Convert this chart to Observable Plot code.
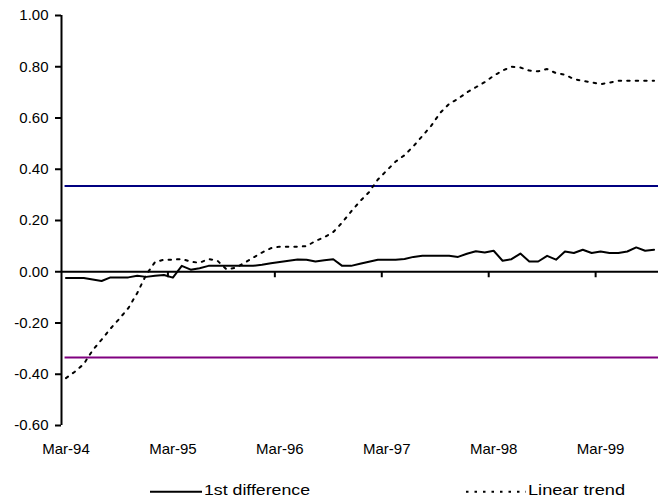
<!DOCTYPE html>
<html>
<head>
<meta charset="utf-8">
<script src="https://cdn.jsdelivr.net/npm/d3@7"></script>
<script src="https://cdn.jsdelivr.net/npm/@observablehq/plot@0.6"></script>
<style>
  html, body { margin: 0; padding: 0; background: #fff; }
  #chart { width: 658px; height: 502px; position: relative; font-family: "Liberation Sans", Arial, sans-serif; }
  #legend { display: block; }
</style>
</head>
<body>
<div id="chart"></div>
<script>
// Monthly observations, Mar-94 through Sep-99
const months = d3.utcMonth.range(new Date(Date.UTC(1994, 2, 1)), new Date(Date.UTC(1999, 9, 1)));

// Detrended series: first difference
const firstDifference = [
  -0.024, -0.024, -0.024, -0.030, -0.036, -0.022, -0.022, -0.022, -0.016, -0.020,
  -0.016, -0.013, -0.023, 0.023, 0.008, 0.014, 0.023, 0.023, 0.023, 0.023,
  0.023, 0.023, 0.027, 0.033, 0.038, 0.043, 0.048, 0.047, 0.040, 0.045,
  0.049, 0.023, 0.023, 0.031, 0.039, 0.047, 0.047, 0.047, 0.050, 0.058,
  0.062, 0.062, 0.062, 0.062, 0.058, 0.070, 0.080, 0.075, 0.082, 0.043,
  0.049, 0.071, 0.040, 0.040, 0.062, 0.047, 0.079, 0.073, 0.086, 0.073,
  0.079, 0.073, 0.073, 0.079, 0.095, 0.082, 0.086
];

// Detrended series: linear trend
const linearTrend = [
  -0.415, -0.390, -0.360, -0.306, -0.265, -0.222, -0.183, -0.142, -0.083, -0.012,
  0.038, 0.047, 0.047, 0.050, 0.039, 0.035, 0.050, 0.043, 0.010, 0.015,
  0.034, 0.055, 0.075, 0.092, 0.098, 0.098, 0.098, 0.100, 0.120, 0.135,
  0.155, 0.192, 0.235, 0.275, 0.310, 0.360, 0.395, 0.430, 0.455, 0.490,
  0.530, 0.570, 0.620, 0.655, 0.675, 0.700, 0.720, 0.740, 0.765, 0.785,
  0.800, 0.797, 0.785, 0.782, 0.791, 0.775, 0.769, 0.752, 0.745, 0.739,
  0.732, 0.738, 0.745, 0.745, 0.745, 0.745, 0.745
];

// Critical bounds
const upperBound = 0.335;
const lowerBound = -0.335;

// Y axis ticks
const yTicks = [-0.6, -0.4, -0.2, 0, 0.2, 0.4, 0.6, 0.8, 1.0];

const rows = months.map((m, i) => ({i, month: m, diff: firstDifference[i], trend: linearTrend[i]}));
const fmtMonth = d3.utcFormat("%b-%y");
const xDomain = [-0.5, months.length - 0.5];
// label every March; tick marks sit on category boundaries
const labelIdx = months.map((m, i) => i).filter(i => months[i].getUTCMonth() === 2);
const boundaryIdx = labelIdx.filter(i => i > 0).map(i => i - 0.5);

// short downward ticks hanging from the zero line
function zeroLineTicks(index, scales) {
  const g = d3.create("svg:g").attr("stroke", "black").attr("stroke-width", 2);
  const y0 = scales.y(0);
  for (const b of boundaryIdx) {
    const x = scales.x(b);
    g.append("line").attr("x1", x).attr("x2", x).attr("y1", y0).attr("y2", y0 + 6);
  }
  return g.node();
}

const plot = Plot.plot({
  width: 658,
  height: 470,
  marginLeft: 61,
  marginRight: 0,
  marginTop: 15,
  marginBottom: 45,
  style: {fontFamily: "'Liberation Sans', Arial, sans-serif", fontSize: "15px", color: "black", background: "white", overflow: "visible"},
  x: {domain: xDomain, axis: null},
  y: {domain: [-0.6, 1.0], axis: null},
  marks: [
    Plot.ruleY([upperBound], {x1: -0.1, x2: xDomain[1], stroke: "#000080", strokeWidth: 2}),
    Plot.ruleY([lowerBound], {x1: -0.1, x2: xDomain[1], stroke: "#800080", strokeWidth: 2}),
    Plot.ruleY([0], {stroke: "black", strokeWidth: 2}),
    zeroLineTicks,
    Plot.line(rows, {x: "i", y: "trend", stroke: "black", strokeWidth: 2, strokeDasharray: "2.5,6"}),
    Plot.line(rows, {x: "i", y: "diff", stroke: "black", strokeWidth: 2}),
    Plot.ruleX([xDomain[0]], {y1: -0.6, y2: 1.0, stroke: "black", strokeWidth: 2}),
    Plot.axisY(yTicks, {tickSize: 6, tickPadding: 7, strokeWidth: 2, label: null, tickFormat: d => d.toFixed(2)}),
    Plot.axisX(labelIdx, {tickSize: 0, tickPadding: 18, label: null, tickFormat: i => fmtMonth(months[i])})
  ]
});

const chart = document.getElementById("chart");
chart.appendChild(plot);

// Legend below the plot
const legendItems = [
  {label: "1st difference", dash: null, x0: 150, x1: 202, textX: 204, textW: 106},
  {label: "Linear trend", dash: "2.5,6", x0: 466, x1: 526, textX: 528, textW: 97}
];
const legend = d3.create("svg")
  .attr("id", "legend")
  .attr("width", 658)
  .attr("height", 32)
  .style("font-family", "'Liberation Sans', Arial, sans-serif")
  .style("font-size", "15px");
const item = legend.selectAll("g").data(legendItems).join("g");
item.append("line")
  .attr("x1", d => d.x0).attr("x2", d => d.x1)
  .attr("y1", 21.7).attr("y2", 21.7)
  .attr("stroke", "black").attr("stroke-width", 2)
  .attr("stroke-dasharray", d => d.dash);
item.append("text")
  .attr("x", d => d.textX).attr("y", 24.5)
  .attr("textLength", d => d.textW)
  .attr("lengthAdjust", "spacingAndGlyphs")
  .attr("fill", "black")
  .text(d => d.label);
chart.appendChild(legend.node());
</script>
</body>
</html>
